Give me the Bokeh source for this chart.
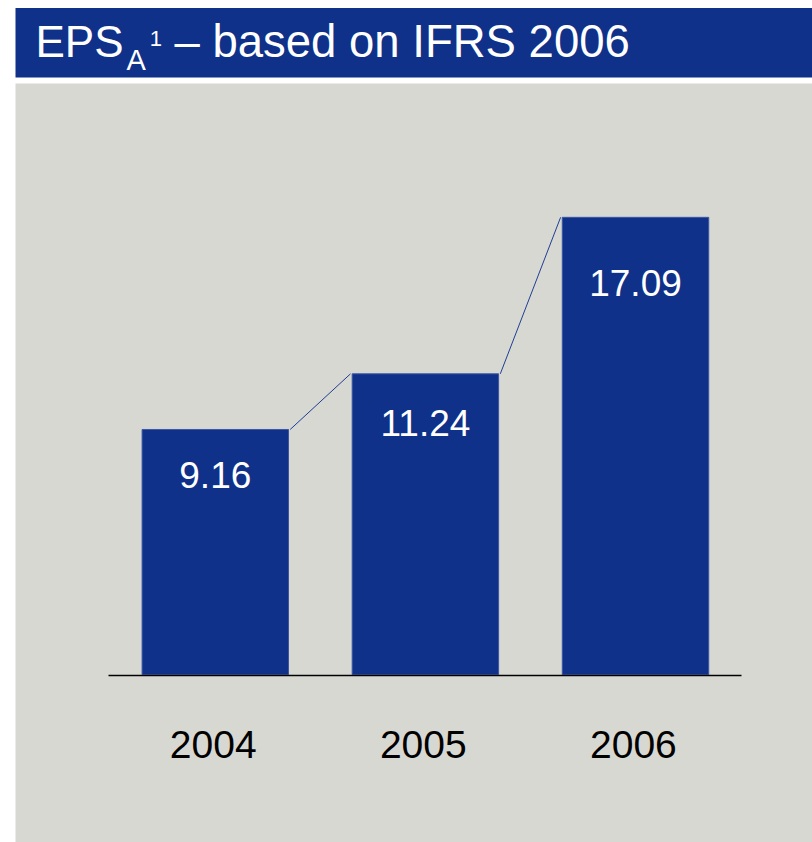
from bokeh.plotting import figure
from bokeh.models import Range1d
from bokeh.core.properties import value
from bokeh.embed import file_html
from bokeh.resources import INLINE

# --- data -----------------------------------------------------------------
years = ["2004", "2005", "2006"]
eps_values = [9.16, 11.24, 17.09]
value_labels = ["9.16", "11.24", "17.09"]

# --- layout (pixels on the 812 x 842 canvas) ------------------------------
W, H = 812, 842
ZERO_PX = 674.0        # pixel row of value 0
PX_PER_UNIT = 26.75    # vertical pixels per EPS unit
X0_PX = 214.8          # pixel column of the first bar centre
PX_PER_SLOT = 210.1    # distance between bar centres
BAR_WIDTH = 0.697      # in slots
LABEL_DROP = [59, 63, 79]  # value label baseline below bar top, px
BASELINE_FIX = 0.37    # text sits this fraction of its size below the anchor

BLUE = "#0F3189"
PANEL = "#D8D8D3"
FONT = value("Liberation Sans")


def px_x(px):
    return (px - X0_PX) / PX_PER_SLOT


def px_y(py):
    return (ZERO_PX - py) / PX_PER_UNIT


def text_y(baseline_px, size):
    # anchor that puts the glyph baseline on the wanted pixel row
    return px_y(baseline_px - BASELINE_FIX * size)


p = figure(
    width=W, height=H,
    x_range=Range1d(px_x(0), px_x(W)),
    y_range=Range1d(px_y(H), px_y(0)),
    x_axis_type=None, y_axis_type=None,
    output_backend="svg", toolbar_location=None,
    min_border=0, outline_line_color=None,
    background_fill_color="white", border_fill_color="white",
)
p.grid.visible = False

# header band and chart panel
p.quad(left=[px_x(15)], right=[px_x(W)], top=[px_y(7.5)], bottom=[px_y(77)],
       fill_color=BLUE, line_color=None)
p.quad(left=[px_x(15)], right=[px_x(W)], top=[px_y(83)], bottom=[px_y(H)],
       fill_color=PANEL, line_color=None)


def title_part(x_px, base_px, size, txt):
    p.text(x=[px_x(x_px)], y=[text_y(base_px, size)], text=[txt],
           text_font=FONT, text_font_size=f"{size}px", text_color="white",
           text_baseline="alphabetic", text_align="left")


# title: EPS with subscript A and superscript 1
title_part(35, 57.5, 44, "EPS")
title_part(126, 70, 29, "A")
title_part(149.3, 46, 22, "1")
title_part(174, 57.5, 45.5, "\u2013 based on IFRS 2006")

idx = list(range(len(years)))

# bars
p.vbar(x=idx, top=eps_values, bottom=0, width=BAR_WIDTH,
       fill_color=BLUE, line_color="#3A57A3", line_width=1)

# connectors from each bar's top-right corner to the next bar's top-left
half = BAR_WIDTH / 2
p.segment(x0=[i + half + 0.008 for i in idx[:-1]], y0=eps_values[:-1],
          x1=[i + 1 - half - 0.008 for i in idx[:-1]], y1=eps_values[1:],
          line_color="#1E3E96", line_width=1)

# baseline
p.segment(x0=[px_x(108)], y0=[px_y(675)], x1=[px_x(741)], y1=[px_y(675)],
          line_color="black", line_width=1.3)

# value labels inside the bars
LABEL_SIZE = 37
p.text(x=idx,
       y=[v - (d - BASELINE_FIX * LABEL_SIZE) / PX_PER_UNIT
          for v, d in zip(eps_values, LABEL_DROP)],
       text=value_labels, text_font=FONT, text_font_size=f"{LABEL_SIZE}px",
       text_color="white", text_align="center", text_baseline="alphabetic")

# category labels
YEAR_SIZE = 39
p.text(x=[i - 0.01 for i in idx], y=[text_y(758, YEAR_SIZE)] * len(years),
       text=years, text_font=FONT, text_font_size=f"{YEAR_SIZE}px",
       text_color="black", text_align="center", text_baseline="alphabetic")

open("out.html", "w").write(file_html(p, INLINE))
